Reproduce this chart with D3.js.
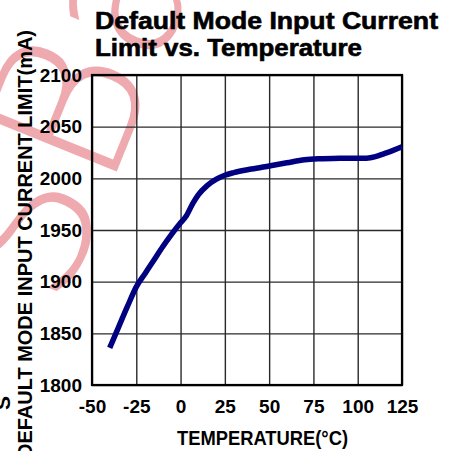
<!DOCTYPE html>
<html>
<head>
<meta charset="utf-8">
<script src="https://cdn.jsdelivr.net/npm/d3@7"></script>
<style>
  html, body { margin: 0; padding: 0; background: #fff; }
  svg { display: block; }
</style>
</head>
<body>
<div id="chart"></div>
<script>
// ---- data ----
const temperatures = [-40, -35, -30, -25, -20, -15, -10, -5, 0, 3, 7, 10, 15, 20, 25, 30, 40, 50, 60, 70, 80, 90, 100, 105, 110, 115, 120, 125];
const currentLimit = [1836, 1856, 1876, 1895, 1908, 1921, 1934, 1946, 1957, 1963, 1976, 1984, 1993, 1999, 2003, 2005.5, 2009, 2012, 2015, 2018, 2019, 2019.5, 2019.5, 2019.5, 2021, 2024, 2027, 2030.5];
const xTicks = [-50, -25, 0, 25, 50, 75, 100, 125];
const yTicks = [1800, 1850, 1900, 1950, 2000, 2050, 2100];
const titleLines = ["Default Mode Input Current", "Limit vs. Temperature"];
const xLabel = "TEMPERATURE(°C)";
const yLabel = "DEFAULT MODE INPUT CURRENT LIMIT(mA)";

// ---- layout ----
const W = 451, H = 451;
const plot = { left: 92, top: 75, right: 402, bottom: 385 };
const font = "Arial, 'Liberation Sans', Helvetica, sans-serif";

const svg = d3.select("#chart").append("svg")
  .attr("width", W).attr("height", H)
  .style("font-family", font);

// watermark
svg.append("text")
  .attr("transform", "translate(60,312) rotate(-68)")
  .attr("font-size", 200)
  .attr("font-family", "'DejaVu Sans'")
  .attr("font-weight", 200)
  .attr("fill", "#eeaaae")
  .text("SBa");

const x = d3.scaleLinear().domain([-50, 125]).range([plot.left, plot.right]);
const y = d3.scaleLinear().domain([1800, 2100]).range([plot.bottom, plot.top]);

// grid + axes
const gx = svg.append("g")
  .attr("transform", `translate(0,${plot.bottom})`)
  .call(d3.axisBottom(x).tickValues(xTicks).tickSizeInner(-(plot.bottom - plot.top)).tickSizeOuter(0).tickPadding(14.5).tickFormat(d => String(d)));
const gy = svg.append("g")
  .attr("transform", `translate(${plot.left},0)`)
  .call(d3.axisLeft(y).tickValues(yTicks).tickSizeInner(-(plot.right - plot.left)).tickSizeOuter(0).tickPadding(10).tickFormat(d => String(d)));

[gx, gy].forEach(g => {
  g.select(".domain").remove();
  g.selectAll(".tick line").attr("stroke", "#2a2a2a").attr("stroke-width", 1.4);
  g.selectAll(".tick text")
    .attr("fill", "#000")
    .attr("font-size", 19)
    .attr("font-weight", "bold")
    .attr("font-family", font);
});

// border
svg.append("rect")
  .attr("x", plot.left).attr("y", plot.top)
  .attr("width", plot.right - plot.left).attr("height", plot.bottom - plot.top)
  .attr("fill", "none").attr("stroke", "#000").attr("stroke-width", 2.2);

// curve
const pts = temperatures.map((t, i) => [t, currentLimit[i]]);
svg.append("path")
  .datum(pts)
  .attr("fill", "none")
  .attr("stroke", "#000080")
  .attr("stroke-width", 5.5)
  .attr("stroke-linejoin", "round")
  .attr("d", d3.line().x(d => x(d[0])).y(d => y(d[1])).curve(d3.curveMonotoneX));

// title
const titleY = [28.5, 55.5];
const titleLen = [343, 267];
titleLines.forEach((t, i) => {
  svg.append("text")
    .attr("x", 95).attr("y", titleY[i])
    .attr("font-size", 23).attr("font-weight", "bold")
    .attr("textLength", titleLen[i]).attr("lengthAdjust", "spacingAndGlyphs")
    .attr("fill", "#000").attr("stroke", "#000").attr("stroke-width", 0.6)
    .text(t);
});

// x label
svg.append("text")
  .attr("x", 177).attr("y", 445)
  .attr("font-size", 20).attr("font-weight", "bold")
  .attr("textLength", 171).attr("lengthAdjust", "spacingAndGlyphs")
  .attr("fill", "#000")
  .text(xLabel);

// y label
svg.append("text")
  .attr("transform", "translate(31.5,30) rotate(-90)")
  .attr("text-anchor", "end")
  .attr("font-size", 21).attr("font-weight", "bold")
  .attr("textLength", 428).attr("lengthAdjust", "spacingAndGlyphs")
  .attr("fill", "#000")
  .text(yLabel);

// cut-off fragment at left edge
svg.append("text")
  .attr("transform", "translate(10,410) rotate(-90)")
  .attr("font-size", 21).attr("font-weight", "bold")
  .attr("fill", "#000")
  .text("S");
</script>
</body>
</html>
